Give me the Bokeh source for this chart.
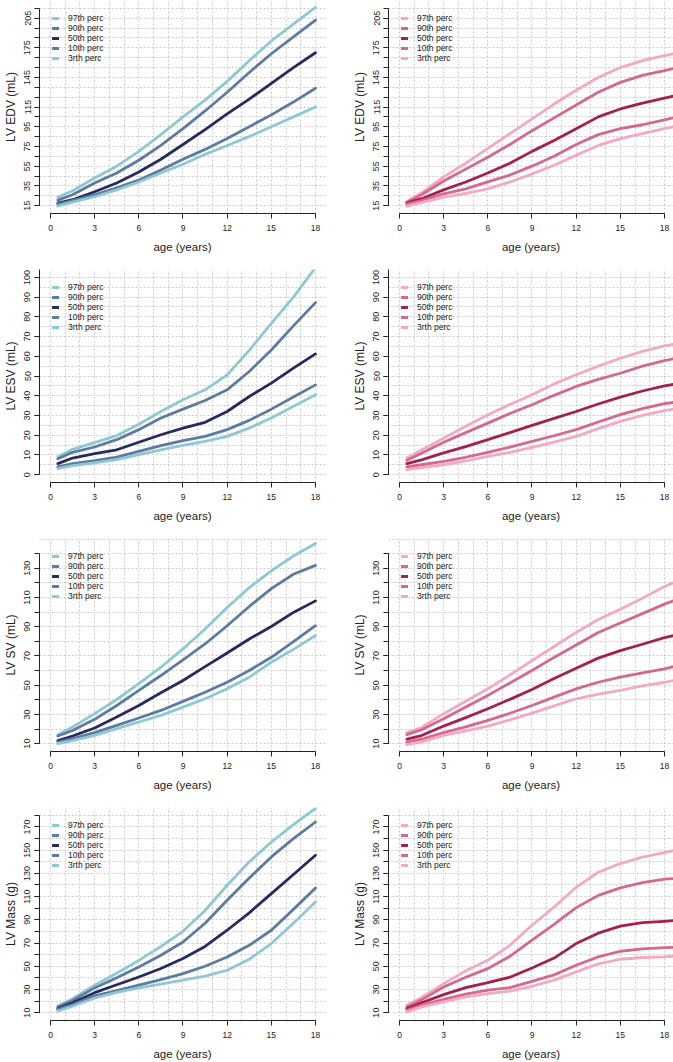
from bokeh.plotting import figure
from bokeh.models import FixedTicker, Legend, LegendItem, Range1d
from bokeh.layouts import column, row
from bokeh.embed import file_html
from bokeh.resources import INLINE

# ---------------- data ----------------
ages_boys = [0.5, 1.5, 3, 4.5, 6, 7.5, 9, 10.5, 12, 13.5, 15, 16.5, 18]
ages_girls = [0.5, 1.5, 3, 4.5, 6, 7.5, 9, 10.5, 12, 13.5, 15, 16.5, 18, 18.6]
perc_labels = ["97th perc", "90th perc", "50th perc", "10th perc", "3rth perc"]
x_ticks = [0, 3, 6, 9, 12, 15, 18]

edv_boys_p97 = [23.5, 30, 43, 55, 70, 87, 105, 122, 141, 162, 182, 199, 216]
edv_boys_p90 = [20.5, 26, 38, 48, 61, 76, 93, 111, 130, 150, 169, 186, 203]
edv_boys_p50 = [17.5, 21, 29, 38, 49, 62, 77, 92, 108, 123, 139, 155, 170]
edv_boys_p10 = [16.5, 20, 26, 33, 41, 51, 62, 72, 83, 95, 107, 120, 134]
edv_boys_p3 = [14.5, 18.5, 24, 31, 39, 48, 57, 67, 76, 85, 95, 105, 115]

edv_girls_p97 = [19, 28, 44, 58, 73, 88, 103, 118, 132, 145, 155, 162, 167, 169]
edv_girls_p90 = [18.5, 26, 40, 52, 64, 77, 91, 104, 117, 130, 140, 147, 152, 154]
edv_girls_p50 = [17.5, 22, 31, 39, 48, 58, 70, 81, 93, 105, 113, 119, 124, 126]
edv_girls_p10 = [16.5, 20, 27, 32, 39, 46, 55, 65, 77, 87, 93, 97, 102, 104]
edv_girls_p3 = [14.5, 18, 23.5, 27.5, 32, 39, 47, 56, 66, 76, 83, 88, 93, 95]

esv_boys_p97 = [9, 12.8, 16.2, 19.8, 25.5, 32, 38, 43, 50.6, 63, 76.7, 90, 105]
esv_boys_p90 = [8, 11.3, 14, 17.7, 22.8, 28.7, 33.2, 37.6, 43, 52.3, 63.2, 75.4, 87.2]
esv_boys_p50 = [5.6, 8.4, 10.6, 12.6, 16.4, 20.2, 23.6, 26.5, 32, 39.6, 46.4, 54, 61.2]
esv_boys_p10 = [3.9, 5.6, 7.1, 8.9, 11.8, 14.7, 17.2, 19.4, 22.8, 27.5, 33.2, 39.3, 45.5]
esv_boys_p3 = [3, 4.6, 5.9, 7.6, 10.1, 12.6, 14.8, 16.9, 19.4, 23.6, 28.7, 34.6, 40.5]

esv_girls_p97 = [8.4, 12.5, 18.5, 24.5, 30.4, 35.5, 40.5, 46, 50.6, 55, 59, 62.5, 65.3, 66]
esv_girls_p90 = [7.3, 10.8, 16.4, 21.3, 26.1, 31, 35.4, 40.2, 44.7, 48.3, 51.4, 55, 57.8, 58.7]
esv_girls_p50 = [5.6, 7.5, 11, 14.2, 17.7, 21.3, 25, 28.5, 32, 35.8, 39.3, 42.4, 45, 45.7]
esv_girls_p10 = [3.9, 5, 6.7, 8.8, 11.3, 13.9, 16.9, 19.7, 22.8, 26.7, 30.4, 33.5, 36, 36.6]
esv_girls_p3 = [2.5, 3.6, 5, 7, 9.3, 11.3, 13.8, 16.5, 19.4, 23.3, 27, 30, 32.5, 33.2]

sv_boys_p97 = [16.1, 21.4, 30.5, 40.2, 51, 62.3, 74.8, 88.4, 103.2, 116.8, 128.2, 138.4, 147]
sv_boys_p90 = [15.2, 19, 26.6, 36.1, 46.4, 56.6, 67.3, 78.2, 90.7, 103.9, 116.1, 125.9, 132]
sv_boys_p50 = [12, 15.2, 20.7, 28.2, 36.1, 44.8, 53.2, 62.7, 72, 81.6, 90.2, 99.8, 107.7]
sv_boys_p10 = [11.1, 13.4, 17.5, 22.5, 27.5, 32.7, 38.9, 45.2, 52, 60, 69.1, 79.8, 90.7]
sv_boys_p3 = [10, 12, 15.7, 20.2, 24.8, 29.3, 35, 40.7, 47.5, 55.5, 65.7, 74.5, 84]

sv_girls_p97 = [17.5, 21, 30.5, 39, 47.5, 57, 66.8, 76.5, 86.1, 95, 102, 109.5, 117.5, 120]
sv_girls_p90 = [16.1, 19.5, 27, 35, 43, 51.5, 60, 69, 77.5, 86, 92.5, 99, 105.5, 107.7]
sv_girls_p50 = [13, 15.5, 22, 27.8, 33.9, 40.3, 47, 54.5, 61.6, 68.5, 73.6, 78, 82.5, 83.9]
sv_girls_p10 = [11.1, 13, 17.5, 21.5, 25.9, 30.8, 36.1, 41.8, 47.5, 52, 55.5, 58.5, 61.1, 62.7]
sv_girls_p3 = [9.3, 11.2, 15.7, 18.8, 22, 26.3, 30.9, 35.8, 40.7, 43.8, 46.4, 49.5, 52, 53.2]

mass_boys_p97 = [15.7, 22, 33.6, 44, 55, 67, 80.1, 98, 119.8, 140, 157, 172, 186]
mass_boys_p90 = [14.9, 20.5, 31.3, 40, 49.4, 59.5, 70.9, 87, 106.8, 126, 144.2, 160, 174.3]
mass_boys_p50 = [13.4, 18.5, 27.2, 34, 40.7, 48, 56.6, 67, 81, 96, 112.6, 129, 145.6]
mass_boys_p10 = [12.9, 17, 24.4, 29, 33.6, 38.5, 43.6, 50, 58, 68, 81, 99, 117.5]
mass_boys_p3 = [11.4, 15.5, 22.6, 27.5, 31.3, 34.5, 37.9, 41.5, 46.5, 56, 69.5, 87, 105.4]

mass_girls_p97 = [16.3, 23, 35, 46, 55.1, 68, 85.3, 101, 118, 131, 138.5, 144, 148, 149.7]
mass_girls_p90 = [14.9, 21, 32.1, 40.5, 47.9, 58.5, 72.4, 86, 100.5, 111, 117.5, 122, 125, 125.5]
mass_girls_p50 = [13.4, 18.5, 25.5, 31.5, 35.9, 40.5, 48.5, 57, 69.5, 78.5, 84.5, 87.5, 88.7, 89.3]
mass_girls_p10 = [12, 16.5, 21.5, 26, 29.3, 31.5, 37, 42.5, 50.8, 58, 62.9, 65, 66, 66.3]
mass_girls_p3 = [10.6, 15, 19.2, 23.5, 26.4, 28.5, 32.7, 38, 45.1, 52, 56, 57.5, 58, 58.6]

# y-axis tick labels per row
edv_ylabels = [15, 35, 55, 75, 95, 115, 145, 175, 205]
esv_ylabels = [0, 10, 20, 30, 40, 50, 60, 70, 80, 90, 100]
sv_ylabels = [10, 30, 50, 70, 90, 110, 130]
mass_ylabels = [10, 30, 50, 70, 90, 110, 130, 150, 170]

# ---------------- styling ----------------
FONT = "Liberation Sans"
boys_colors = ["#8ec8d2", "#5d7b9f", "#262a5e", "#5d7b9f", "#8ec8d2"]
girls_colors = ["#f4a9c2", "#d4688f", "#a3204f", "#d4688f", "#f4a9c2"]
PX_PER_YEAR = 14.722
X0 = -0.747

rows_spec = [
    dict(title="LV EDV (mL)", yr=(7, 223), bounds=(15, 215), labels=edv_ylabels,
         minor=list(range(15, 216, 10)), grid=list(range(15, 216, 10)),
         boys=[edv_boys_p97, edv_boys_p90, edv_boys_p50, edv_boys_p10, edv_boys_p3],
         girls=[edv_girls_p97, edv_girls_p90, edv_girls_p50, edv_girls_p10, edv_girls_p3]),
    dict(title="LV ESV (mL)", yr=(-4, 104), bounds=(0, 104), labels=esv_ylabels,
         minor=list(range(0, 101, 10)), grid=list(range(0, 101, 5)),
         boys=[esv_boys_p97, esv_boys_p90, esv_boys_p50, esv_boys_p10, esv_boys_p3],
         girls=[esv_girls_p97, esv_girls_p90, esv_girls_p50, esv_girls_p10, esv_girls_p3]),
    dict(title="LV SV (mL)", yr=(4.6, 150.4), bounds=(10, 140), labels=sv_ylabels,
         minor=list(range(10, 141, 10)), grid=list(range(10, 151, 10)),
         boys=[sv_boys_p97, sv_boys_p90, sv_boys_p50, sv_boys_p10, sv_boys_p3],
         girls=[sv_girls_p97, sv_girls_p90, sv_girls_p50, sv_girls_p10, sv_girls_p3]),
    dict(title="LV Mass (g)", yr=(3.2, 186.8), bounds=(10, 180), labels=mass_ylabels,
         minor=list(range(10, 181, 10)), grid=list(range(10, 181, 10)),
         boys=[mass_boys_p97, mass_boys_p90, mass_boys_p50, mass_boys_p10, mass_boys_p3],
         girls=[mass_girls_p97, mass_girls_p90, mass_girls_p50, mass_girls_p10, mass_girls_p3]),
]


def make_panel(spec, ages, series, colors, is_left, first_row):
    fw = 286 if is_left else 285
    p = figure(frame_width=fw, frame_height=213,
               x_range=Range1d(X0, X0 + fw / PX_PER_YEAR),
               y_range=Range1d(*spec["yr"]),
               output_backend="svg", toolbar_location=None,
               min_border_left=39, min_border_right=24 if is_left else 0,
               min_border_top=0 if first_row else 14, min_border_bottom=42,
               outline_line_color=None, background_fill_color="white",
               border_fill_color="white")

    # grid
    p.xgrid.ticker = FixedTicker(ticks=list(range(0, 19)))
    p.ygrid.ticker = FixedTicker(ticks=spec["grid"])
    for g in (p.xgrid[0], p.ygrid[0]):
        g.grid_line_color = "#c9c9c9"
        g.grid_line_dash = "2 2"
        g.grid_line_width = 1

    # x axis
    xa = p.xaxis[0]
    xa.ticker = FixedTicker(ticks=x_ticks)
    xa.bounds = (0, 18)
    xa.axis_label = "age (years)"
    xa.axis_label_text_font = FONT
    xa.axis_label_text_font_size = "11.5px"
    xa.axis_label_text_font_style = "normal"
    xa.axis_label_text_color = "#222222"
    xa.axis_label_standoff = 7
    xa.major_label_text_font = FONT
    xa.major_label_text_font_size = "8.5px"
    xa.major_label_text_color = "#222222"
    xa.major_label_standoff = 6
    xa.major_tick_out = 5
    xa.major_tick_in = 0
    xa.minor_tick_line_color = None
    xa.axis_line_color = "#222222"
    xa.major_tick_line_color = "#222222"

    # y axis
    ya = p.yaxis[0]
    ya.ticker = FixedTicker(ticks=spec["labels"], minor_ticks=spec["minor"])
    ya.bounds = spec["bounds"]
    ya.axis_label = spec["title"]
    ya.axis_label_text_font = FONT
    ya.axis_label_text_font_size = "12px"
    ya.axis_label_text_font_style = "normal"
    ya.axis_label_text_color = "#222222"
    ya.axis_label_standoff = 4
    ya.major_label_text_font = FONT
    ya.major_label_text_font_size = "9px"
    ya.major_label_text_color = "#222222"
    ya.major_label_orientation = "vertical"
    ya.major_label_standoff = 4
    ya.major_tick_out = 5
    ya.major_tick_in = 0
    ya.minor_tick_out = 5
    ya.minor_tick_in = 0
    ya.axis_line_color = "#222222"
    ya.major_tick_line_color = "#222222"
    ya.minor_tick_line_color = "#222222"

    rends = []
    for ys, col in zip(series, colors):
        r = p.line(ages, ys, line_color=col, line_width=2.8, line_join="round", line_cap="round")
        rends.append(r)

    items = [LegendItem(label=lab, renderers=[r]) for lab, r in zip(perc_labels, rends)]
    leg = Legend(items=items, location="top_left", margin=13, padding=0, spacing=0,
                 glyph_width=7, glyph_height=10, label_height=10, label_standoff=9,
                 label_text_font=FONT, label_text_font_size="8.5px",
                 label_text_color="#222222",
                 border_line_color=None, background_fill_alpha=0)
    p.add_layout(leg)
    return p


rows = []
for i, spec in enumerate(rows_spec):
    left = make_panel(spec, ages_boys, spec["boys"], boys_colors, True, i == 0)
    right = make_panel(spec, ages_girls, spec["girls"], girls_colors, False, i == 0)
    rows.append(row(left, right))

layout = column(*rows)

open("out.html", "w").write(file_html(layout, INLINE))
